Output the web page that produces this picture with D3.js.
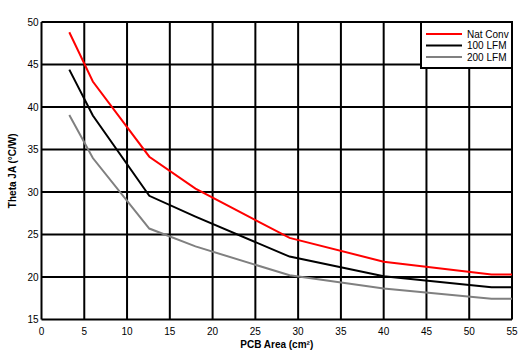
<!DOCTYPE html>
<html>
<head>
<meta charset="utf-8">
<script src="https://cdn.jsdelivr.net/npm/d3@7"></script>
<style>
	body { margin: 0; background: #fff; }
	text { font-family: 'Liberation Sans', Arial, sans-serif; }
</style>
</head>
<body>
<script>
const areas = [3.25, 6, 12.6, 18, 29, 40, 52.6, 55];
const natConv = [48.8, 43.0, 34.15, 30.4, 24.6, 21.8, 20.3, 20.3];
const lfm100 = [44.4, 39.0, 29.55, 27.1, 22.4, 20.1, 18.8, 18.8];
const lfm200 = [39.05, 34.0, 25.7, 23.6, 20.2, 18.65, 17.45, 17.45];
const seriesNames = ['Nat Conv', '100 LFM', '200 LFM'];
const xTicks = [0, 5, 10, 15, 20, 25, 30, 35, 40, 45, 50, 55];
const yTicks = [15, 20, 25, 30, 35, 40, 45, 50];

const colors = ['#ff0000', '#000000', '#808080'];
const allSeries = [natConv, lfm100, lfm200];

const W = 532, H = 361;
const m = { left: 41.5, right: 20, top: 22, bottom: 41.5 };

const svg = d3.select('body').append('svg')
	.attr('width', W)
	.attr('height', H);

const x = d3.scaleLinear().domain([0, 55]).range([m.left, W - m.right]);
const y = d3.scaleLinear().domain([15, 50]).range([H - m.bottom, m.top]);

// grid
svg.append('g').selectAll('line').data(xTicks).enter().append('line')
	.attr('x1', d => x(d)).attr('x2', d => x(d))
	.attr('y1', y(15)).attr('y2', y(50))
	.attr('stroke', '#000').attr('stroke-width', 2);

svg.append('g').selectAll('line').data(yTicks).enter().append('line')
	.attr('y1', d => y(d)).attr('y2', d => y(d))
	.attr('x1', x(0)).attr('x2', x(55))
	.attr('stroke', '#000').attr('stroke-width', 2);

// tick labels
svg.append('g').selectAll('text').data(xTicks).enter().append('text')
	.attr('x', d => x(d))
	.attr('y', y(15) + 15)
	.attr('text-anchor', 'middle')
	.attr('font-size', 10)
	.text(d => d);

svg.append('g').selectAll('text').data(yTicks).enter().append('text')
	.attr('x', x(0) - 3)
	.attr('y', d => y(d) + 3.5)
	.attr('text-anchor', 'end')
	.attr('font-size', 10)
	.text(d => d);

// axis titles
svg.append('text')
	.attr('x', (x(0) + x(55)) / 2)
	.attr('y', H - 13)
	.attr('text-anchor', 'middle')
	.attr('font-size', 10)
	.attr('font-weight', 'bold')
	.text('PCB Area (cm²)');

svg.append('text')
	.attr('transform', `translate(16,${(y(15) + y(50)) / 2}) rotate(-90)`)
	.attr('text-anchor', 'middle')
	.attr('font-size', 10)
	.attr('font-weight', 'bold')
	.text('Theta JA (°C/W)');

// series
const line = d3.line()
	.x((d, i) => x(areas[i]))
	.y(d => y(d));

svg.append('g').selectAll('path').data(allSeries).enter().append('path')
	.attr('d', line)
	.attr('fill', 'none')
	.attr('stroke', (d, i) => colors[i])
	.attr('stroke-width', 2);

// legend
const lg = svg.append('g').attr('transform', `translate(${x(0) + 379.5},${y(50)})`);
lg.append('rect')
	.attr('width', x(55) - x(0) - 379.5)
	.attr('height', 46)
	.attr('fill', '#fff')
	.attr('stroke', '#000')
	.attr('stroke-width', 2);

const items = lg.selectAll('g.item').data(seriesNames).enter().append('g')
	.attr('class', 'item')
	.attr('transform', (d, i) => `translate(0,${12 + i * 11.5})`);

items.append('line')
	.attr('x1', 5).attr('x2', 41)
	.attr('stroke', (d, i) => colors[i])
	.attr('stroke-width', 2);

items.append('text')
	.attr('x', 46)
	.attr('y', 3.5)
	.attr('font-size', 10)
	.text(d => d);
</script>
</body>
</html>
